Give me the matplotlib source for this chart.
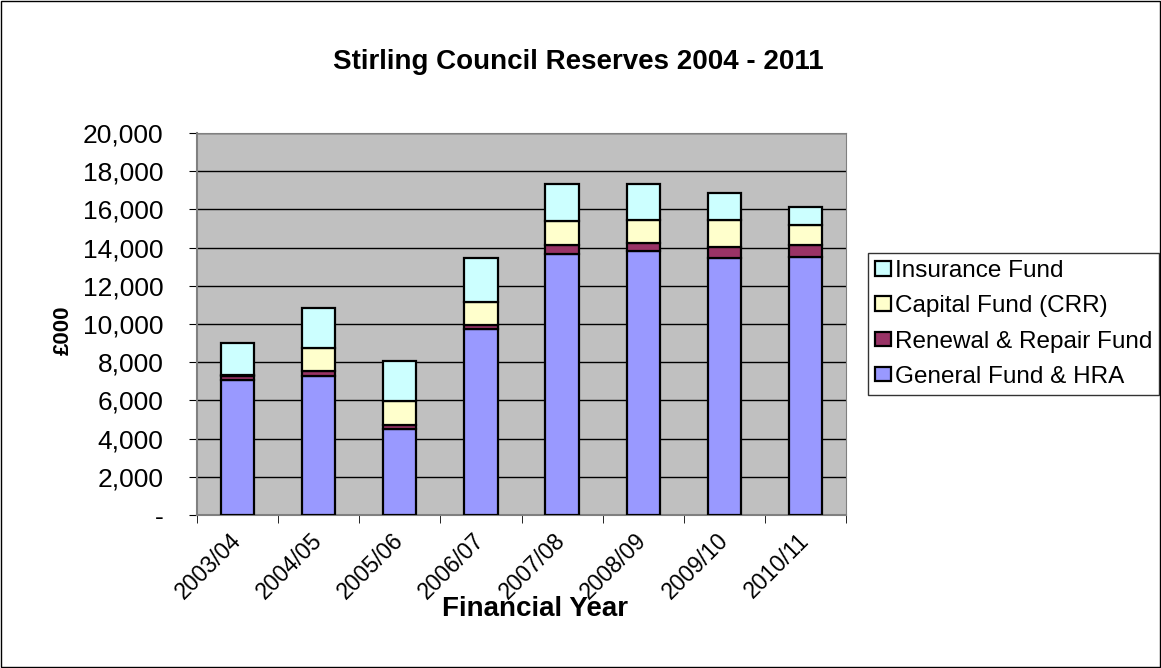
import matplotlib.pyplot as plt
import numpy as np
from matplotlib.patches import Rectangle
from matplotlib.ticker import FuncFormatter

plt.rcParams['font.family'] = ['Liberation Sans', 'DejaVu Sans']

years = ["2003/04", "2004/05", "2005/06", "2006/07", "2007/08", "2008/09", "2009/10", "2010/11"]
general_fund = [7050, 7280, 4500, 9720, 13660, 13820, 13440, 13530]
renewal_repair = [230, 280, 210, 230, 480, 440, 610, 610]
capital_fund = [40, 1170, 1280, 1220, 1250, 1180, 1390, 1040]
insurance_fund = [1700, 2090, 2070, 2270, 1940, 1890, 1440, 950]

fig = plt.figure(figsize=(11.61, 6.68), dpi=100)
ax = fig.add_axes([0.1697, 0.229, 0.559, 0.572])
ax.set_facecolor("#C0C0C0")

x = np.arange(len(years))
w = 0.41
series = [
    (general_fund, "#9999FF", "General Fund & HRA"),
    (renewal_repair, "#993366", "Renewal & Repair Fund"),
    (capital_fund, "#FFFFCC", "Capital Fund (CRR)"),
    (insurance_fund, "#CCFFFF", "Insurance Fund"),
]
bottom = np.zeros(len(years))
handles = []
for vals, col, lab in series:
    b = ax.bar(x, vals, w, bottom=bottom, color=col, edgecolor="black", linewidth=1.6, label=lab, zorder=3)
    handles.append(b)
    bottom += np.array(vals)

ax.set_ylim(0, 20000)
ax.set_xlim(-0.5, len(years) - 0.5)
ax.set_yticks(np.arange(0, 20001, 2000))
ax.yaxis.set_major_formatter(FuncFormatter(lambda v, p: "-" if v == 0 else f"{int(v):,}"))
ax.grid(axis="y", color="black", linewidth=1, zorder=1)

ax.set_xticks(x)
ax.set_xticklabels(years, rotation=45, ha="right", va="center", rotation_mode="anchor", fontsize=16.5)
ax.tick_params(axis="x", length=0, pad=16)
ax.set_xticks(np.arange(-0.5, len(years)), minor=True)
ax.tick_params(axis="x", which="minor", length=6, color="black")
ax.tick_params(axis="y", labelsize=19, length=6, direction="out", pad=18)

for s in ["top", "right"]:
    ax.spines[s].set_color("#808080")
for s in ["left", "bottom"]:
    ax.spines[s].set_color("#808080")
    ax.spines[s].set_linewidth(1.5)

fig.text(535 / 1161, 1 - 609 / 668, "Financial Year", ha="center", va="center",
         fontsize=20, fontweight="bold")
fig.text(63 / 1161, 1 - 330 / 668, "£000", ha="center", va="center", rotation=90,
         fontsize=16, fontweight="bold")
fig.text(578 / 1161, 1 - 62 / 668, "Stirling Council Reserves 2004 - 2011", ha="center", va="center",
         fontsize=20, fontweight="bold")

leg = fig.legend(handles[::-1], [h.get_label() for h in handles[::-1]], loc="upper left",
                 bbox_to_anchor=(868 / 1161, 1 - 253 / 668), fontsize=17.5, frameon=True,
                 fancybox=False, edgecolor="black", handlelength=0.65, handleheight=0.55,
                 handletextpad=0.15, borderaxespad=0, labelspacing=0.54, borderpad=0.3)
leg.get_frame().set_linewidth(1)

fig.patches.append(Rectangle((0.001, 0.001), 0.998, 0.998, transform=fig.transFigure,
                             fill=False, edgecolor="black", linewidth=1))

fig.savefig("out.png", dpi=100)
